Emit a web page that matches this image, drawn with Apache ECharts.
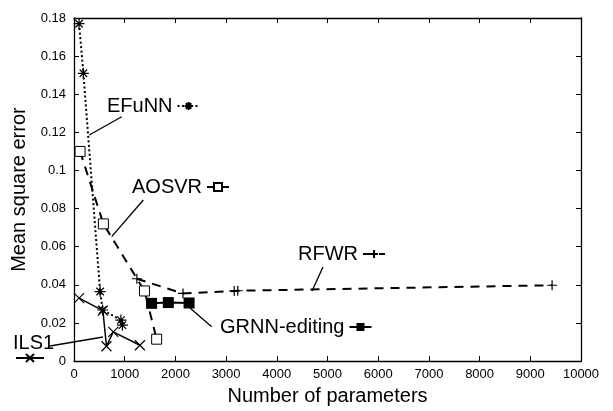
<!DOCTYPE html>
<html>
<head>
<meta charset="utf-8">
<script src="https://cdn.jsdelivr.net/npm/echarts@6/dist/echarts.min.js"></script>
<style>
html, body { margin: 0; padding: 0; background: #fff; }
#chart { width: 613px; height: 411px; }
</style>
</head>
<body>
<div id="chart"></div>
<script>
// values
var efunnX = [100, 185, 515, 565, 925, 955];
var efunnY = [0.177, 0.151, 0.0365, 0.0268, 0.0215, 0.0189];
var aosvrX = [120, 580, 1390, 1630];
var aosvrY = [0.110, 0.072, 0.0368, 0.0115];
var rfwrX = [1240, 2150, 3160, 3230, 9430];
var rfwrY = [0.0432, 0.0355, 0.0368, 0.0369, 0.0398];
var grnnX = [1530, 1860, 2270];
var grnnY = [0.0303, 0.0307, 0.0305];
var ils1X = [100, 570, 640, 775, 1300];
var ils1Y = [0.033, 0.0265, 0.0078, 0.0153, 0.0083];

var font = '"Liberation Sans", Arial, Helvetica, sans-serif';

function pts(xs, ys) {
  return xs.map(function (x, i) { return [x, ys[i]]; });
}

var asterisk = 'path://M5 0L5 10M0 5L10 5M1.6 1.6L8.4 8.4M8.4 1.6L1.6 8.4';
var plus = 'path://M5 0L5 10M0 5L10 5';
var cross = 'path://M0 0L10 10M10 0L0 10';

var chart = echarts.init(document.getElementById('chart'));

var axisCommon = {
  axisLine: { onZero: false, lineStyle: { color: '#000', width: 1.3 } },
  axisTick: { inside: true, length: 5, lineStyle: { color: '#000', width: 1 } },
  splitLine: { show: false }
};

function legendAt(name, left, top, extra) {
  var l = {
    data: [name], left: left, top: top, align: 'right', orient: 'horizontal',
    padding: 0, itemGap: 0, itemWidth: 22, itemHeight: 10, selectedMode: false,
    textStyle: { fontSize: 20, color: '#000', fontFamily: font, lineHeight: 20 }
  };
  if (extra) Object.assign(l, extra);
  return l;
}

var line = function (x1, y1, x2, y2) {
  return { type: 'line', shape: { x1: x1, y1: y1, x2: x2, y2: y2 },
    style: { stroke: '#000', lineWidth: 1.3 }, z: 100 };
};

chart.setOption({
  animation: false,
  backgroundColor: '#fff',
  textStyle: { fontFamily: font },
  grid: { left: 74, right: 32, top: 18, bottom: 48 },
  xAxis: [
    Object.assign({
      type: 'value', min: 0, max: 10000, interval: 1000, position: 'bottom',
      name: 'Number of parameters', nameLocation: 'middle', nameGap: 24,
      nameTextStyle: { fontSize: 20, color: '#000', fontFamily: font },
      axisLabel: {
        color: '#000', fontSize: 13, margin: 7, fontFamily: font,
        formatter: function (v) { return String(v); }
      }
    }, axisCommon),
    Object.assign({
      type: 'value', min: 0, max: 10000, interval: 1000, position: 'top',
      axisLabel: { show: false }
    }, axisCommon)
  ],
  yAxis: [
    Object.assign({
      type: 'value', min: 0, max: 0.18, interval: 0.02, position: 'left',
      name: 'Mean square error', nameLocation: 'middle', nameGap: 44,
      nameTextStyle: { fontSize: 20, color: '#000', fontFamily: font },
      axisLabel: {
        color: '#000', fontSize: 13, margin: 8, fontFamily: font,
        formatter: function (v) { return String(parseFloat(v.toFixed(2))); }
      }
    }, axisCommon),
    Object.assign({
      type: 'value', min: 0, max: 0.18, interval: 0.02, position: 'right',
      axisLabel: { show: false }
    }, axisCommon)
  ],
  legend: [
    legendAt('EFuNN', 107, 96),
    legendAt('AOSVR', 132, 177),
    legendAt('RFWR', 298, 244),
    legendAt('GRNN-editing', 220, 317),
    legendAt('ILS1', 15, 353, { align: 'left', itemWidth: 28, formatter: function () { return ''; } })
  ],
  graphic: [
    { type: 'text', left: 13, top: 333, z: 100,
      style: { text: 'ILS1', fontSize: 20, fill: '#000', font: '20px ' + font } },
    line(121.7, 116.7, 89.3, 135),
    line(143.3, 200, 111.7, 236.7),
    line(323, 267, 312, 291),
    line(211.7, 326.7, 190, 308),
    line(50, 346, 103, 337)
  ],
  series: [
    {
      name: 'EFuNN', type: 'line', data: pts(efunnX, efunnY),
      symbol: asterisk, symbolSize: 11,
      lineStyle: { color: '#000', width: 2, type: [2, 2.5] },
      itemStyle: { color: '#000', borderColor: '#000', borderWidth: 1.2 }
    },
    {
      name: 'AOSVR', type: 'line', data: pts(aosvrX, aosvrY),
      symbol: 'rect', symbolSize: 10,
      lineStyle: { color: '#000', width: 2, type: [9, 7] },
      itemStyle: { color: '#fff', borderColor: '#000', borderWidth: 1 }
    },
    {
      name: 'RFWR', type: 'line', data: pts(rfwrX, rfwrY),
      symbol: plus, symbolSize: 10,
      lineStyle: { color: '#000', width: 2, type: [9, 7] },
      itemStyle: { color: '#000', borderColor: '#000', borderWidth: 1.2 }
    },
    {
      name: 'GRNN-editing', type: 'line', data: pts(grnnX, grnnY),
      symbol: 'rect', symbolSize: 11,
      lineStyle: { color: '#000', width: 2 },
      itemStyle: { color: '#000', borderColor: '#000', borderWidth: 0 }
    },
    {
      name: 'ILS1', type: 'line', data: pts(ils1X, ils1Y),
      symbol: cross, symbolSize: 10,
      lineStyle: { color: '#000', width: 1.5 },
      itemStyle: { color: '#000', borderColor: '#000', borderWidth: 1.2 }
    }
  ]
});
</script>
</body>
</html>
